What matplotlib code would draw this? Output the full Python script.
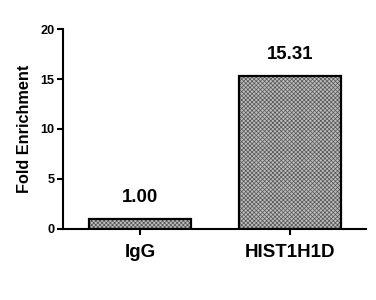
import matplotlib
matplotlib.use('Agg')
import matplotlib.pyplot as plt

categories = ['IgG', 'HIST1H1D']
values = [1.00, 15.31]
value_labels = ['1.00', '15.31']
yticks = [0, 5, 10, 15, 20]

plt.rcParams['font.family'] = ['Liberation Sans', 'DejaVu Sans']
plt.rcParams['font.weight'] = 'bold'
plt.rcParams['hatch.linewidth'] = 0.5

fig = plt.figure(figsize=(3.76, 3.0), dpi=100)
ax = fig.add_axes([0.1676, 0.2367, 0.8058, 0.6666])

x = list(range(len(categories)))
# fine checker-like fill, then black outline on top
ax.bar(x, values, width=0.68, color='#bcbcbc', edgecolor='#555555',
       hatch='xxxxxxxx', linewidth=0)
ax.bar(x, values, width=0.68, fill=False, edgecolor='black', linewidth=1.6)

for xi, v, lab in zip(x, values, value_labels):
    ax.annotate(lab, (xi, v), xytext=(0, 9), textcoords='offset points',
                ha='center', va='bottom', fontsize=13.4, fontweight='bold')

ax.set_xlim(-0.513, 1.507)
ax.set_ylim(0, 20)
ax.set_yticks(yticks)
ax.set_xticks(x)
ax.set_xticklabels(categories, fontsize=13.5, fontweight='bold')
ax.tick_params(axis='y', labelsize=9.2, length=4, width=1.5, pad=2)
ax.tick_params(axis='x', length=4, width=1.5, pad=7)
ax.set_ylabel('Fold Enrichment', fontsize=11.7, fontweight='bold', labelpad=6)

for s in ['top', 'right']:
    ax.spines[s].set_visible(False)
for s in ['left', 'bottom']:
    ax.spines[s].set_linewidth(1.5)

fig.savefig('out.png', dpi=100)
